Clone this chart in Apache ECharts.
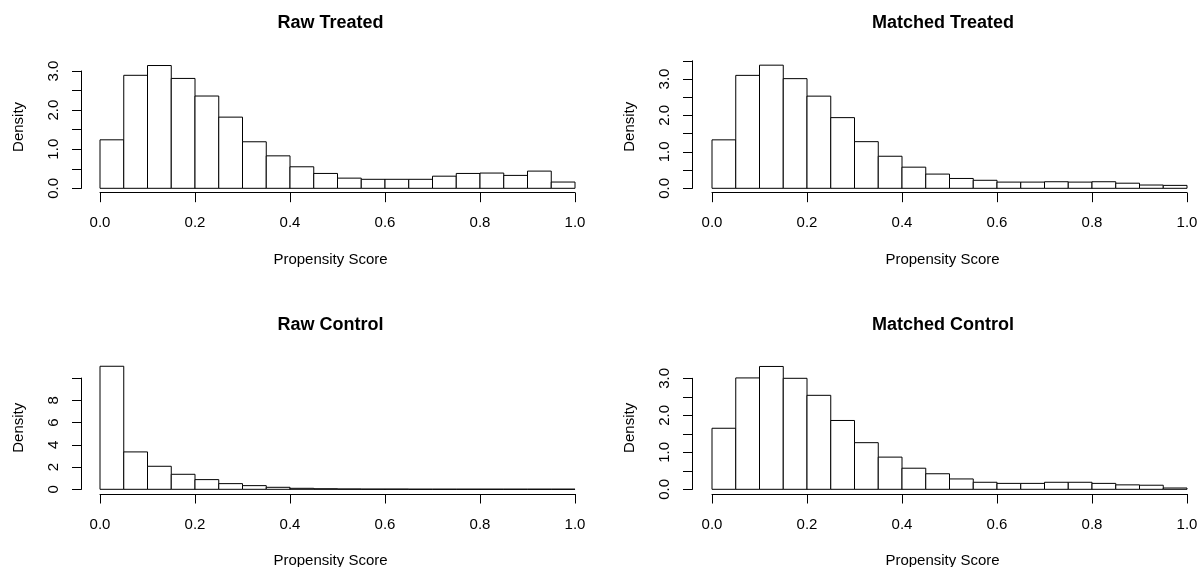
<!DOCTYPE html>
<html>
<head>
<meta charset="utf-8">
<script src="https://cdn.jsdelivr.net/npm/echarts@6/dist/echarts.min.js"></script>
<style>
  html, body { margin: 0; padding: 0; background: #ffffff; }
  #chart { width: 1197px; height: 567px; }
</style>
</head>
<body>
<div id="chart"></div>
<script>
// ---------- data ----------
const binEdges = [0.00, 0.05, 0.10, 0.15, 0.20, 0.25, 0.30, 0.35, 0.40, 0.45, 0.50,
                  0.55, 0.60, 0.65, 0.70, 0.75, 0.80, 0.85, 0.90, 0.95, 1.00];

const rawTreated     = [1.24, 2.89, 3.14, 2.81, 2.36, 1.82, 1.19, 0.83, 0.55, 0.38,
                        0.26, 0.23, 0.23, 0.23, 0.31, 0.38, 0.39, 0.33, 0.44, 0.16];
const matchedTreated = [1.33, 3.10, 3.38, 3.01, 2.53, 1.94, 1.28, 0.88, 0.58, 0.39,
                        0.27, 0.22, 0.17, 0.17, 0.18, 0.17, 0.18, 0.14, 0.09, 0.08];
const rawControl     = [11.06, 3.36, 2.07, 1.35, 0.87, 0.51, 0.33, 0.18, 0.09, 0.05,
                        0.03, 0.02, 0.02, 0.01, 0.01, 0.01, 0.01, 0.01, 0.01, 0.01];
const matchedControl = [1.65, 3.01, 3.32, 3.00, 2.54, 1.86, 1.26, 0.87, 0.57, 0.42,
                        0.28, 0.19, 0.16, 0.16, 0.19, 0.19, 0.16, 0.12, 0.11, 0.035];

const panelTitles = ['Raw Treated', 'Matched Treated', 'Raw Control', 'Matched Control'];
const xAxisTitle = 'Propensity Score';
const yAxisTitle = 'Density';

const xTickLabels = ['0.0', '0.2', '0.4', '0.6', '0.8', '1.0'];
const xTickStep = 0.2;
const yTickLabelsTreatedRaw = ['0.0', '', '1.0', '', '2.0', '', '3.0'];
const yTickLabelsTreatedMatched = ['0.0', '', '1.0', '', '2.0', '', '3.0', ''];
const yTickLabelsControlRaw = ['0', '2', '4', '6', '8', ''];
const yTickLabelsControlMatched = ['0.0', '', '1.0', '', '2.0', '', '3.0'];
const yTickSteps = [0.5, 0.5, 2, 0.5];

// ---------- layout (pixels) ----------
const FONT = '"Liberation Sans", Arial, Helvetica, sans-serif';
const layouts = [
  { xLeft: 100,   xRight: 575,  y0: 188.3, unit: 39.1,   yAxisX: 81.5,  xOff: 4.4, titleX: 330.5, titleTop: 14 },
  { xLeft: 712,   xRight: 1187, y0: 188.3, unit: 36.43,  yAxisX: 692.5, xOff: 4.4, titleX: 943,   titleTop: 14 },
  { xLeft: 100,   xRight: 575,  y0: 489.3, unit: 11.125, yAxisX: 81.5,  xOff: 4.7, titleX: 330.5, titleTop: 315.7 },
  { xLeft: 712,   xRight: 1187, y0: 489.3, unit: 37.0,   yAxisX: 692.5, xOff: 4.7, titleX: 943,   titleTop: 315.7 }
];
const panelData = [rawTreated, matchedTreated, rawControl, matchedControl];
const panelYLabels = [yTickLabelsTreatedRaw, yTickLabelsTreatedMatched, yTickLabelsControlRaw, yTickLabelsControlMatched];

const chart = echarts.init(document.getElementById('chart'), null, { renderer: 'canvas' });

const grids = [], xAxes = [], yAxes = [], series = [], titles = [];
const axisText = { color: '#000', fontSize: 15, fontFamily: FONT };

panelData.forEach((vals, p) => {
  const L = layouts[p];
  const maxVal = Math.max.apply(null, vals);
  const labels = panelYLabels[p];
  const step = yTickSteps[p];
  const tickTop = step * (labels.length - 1);

  // bar grid
  const gBar = grids.length;
  grids.push({
    left: L.xLeft, width: L.xRight - L.xLeft,
    top: L.y0 - maxVal * L.unit, height: maxVal * L.unit,
    containLabel: false, outerBoundsMode: 'none'
  });
  // axis grid (y-axis drawn from 0 to last tick)
  const gAx = grids.length;
  grids.push({
    left: L.yAxisX, width: 1,
    top: L.y0 - tickTop * L.unit, height: tickTop * L.unit,
    containLabel: false, outerBoundsMode: 'none'
  });

  const xBar = xAxes.length;
  xAxes.push({
    gridIndex: gBar, type: 'value', min: 0, max: 1, interval: xTickStep,
    position: 'bottom', offset: L.xOff,
    axisLine: { show: true, onZero: false, lineStyle: { color: '#000', width: 1 } },
    axisTick: { show: true, length: 9.5, lineStyle: { color: '#000', width: 1 } },
    axisLabel: { show: true, margin: 23, ...axisText,
      formatter: v => xTickLabels[Math.round(v / xTickStep)] },
    splitLine: { show: false },
    name: xAxisTitle, nameLocation: 'middle', nameGap: 59.5,
    nameTextStyle: { ...axisText, padding: [0, 14, 0, 0] }
  });
  xAxes.push({ gridIndex: gAx, type: 'value', min: 0, max: 1, show: false });

  const yBar = yAxes.length;
  yAxes.push({
    gridIndex: gBar, type: 'value', min: 0, max: maxVal,
    position: 'left', offset: L.xLeft - L.yAxisX,
    axisLine: { show: false }, axisTick: { show: false }, axisLabel: { show: false },
    splitLine: { show: false },
    name: yAxisTitle, nameLocation: 'middle', nameRotate: 90, nameGap: 55,
    nameTextStyle: { ...axisText }
  });
  yAxes.push({
    gridIndex: gAx, type: 'value', min: 0, max: tickTop, interval: step,
    position: 'left',
    axisLine: { show: true, onZero: false, lineStyle: { color: '#000', width: 1 } },
    axisTick: { show: true, length: 9.5, lineStyle: { color: '#000', width: 1 } },
    axisLabel: { show: true, rotate: 90, margin: 20.5, ...axisText,
      formatter: v => labels[Math.round(v / step)] },
    splitLine: { show: false }
  });

  const rows = vals.map((d, i) => [binEdges[i], binEdges[i + 1], d]);
  series.push({
    type: 'custom',
    xAxisIndex: xBar, yAxisIndex: yBar,
    clip: false,
    silent: true,
    data: rows,
    renderItem: (params, api) => {
      const p0 = api.coord([api.value(0), api.value(2)]);
      const p1 = api.coord([api.value(1), 0]);
      return {
        type: 'rect',
        shape: { x: p0[0], y: p0[1], width: p1[0] - p0[0], height: p1[1] - p0[1] },
        style: { fill: '#ffffff', stroke: '#000000', lineWidth: 1 }
      };
    }
  });

  titles.push({
    text: panelTitles[p], left: L.titleX, top: L.titleTop, textAlign: 'center', padding: 0,
    textStyle: { color: '#000', fontSize: 18, fontWeight: 'bold', fontFamily: FONT }
  });
});

chart.setOption({
  animation: false,
  backgroundColor: '#ffffff',
  title: titles,
  grid: grids,
  xAxis: xAxes,
  yAxis: yAxes,
  series: series
});
</script>
</body>
</html>
